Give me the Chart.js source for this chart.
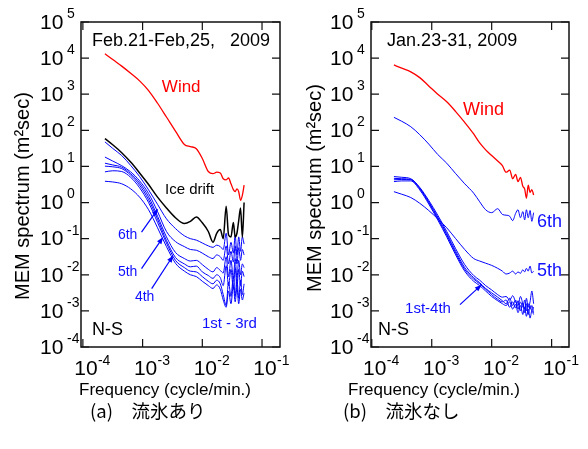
<!DOCTYPE html>
<html>
<head>
<meta charset="utf-8">
<script src="https://cdn.jsdelivr.net/npm/chart.js@4.4.0/dist/chart.umd.min.js"></script>
<style>
  body { margin: 0; background: #fff; width: 588px; height: 449px; overflow: hidden; position: relative; }
  canvas { position: absolute; top: 0; }
  #chartA { left: 0; }
  #chartB { left: 290px; }
</style>
</head>
<body>
<canvas id="chartA" width="290" height="449"></canvas>
<canvas id="chartB" width="298" height="449"></canvas>
<script>
// frequency grid (cycle/min.) shared by every spectrum
const freq = [2.34e-4, 3.16e-4, 4.47e-4, 6.31e-4, 8.91e-4, 1.26e-3, 1.78e-3, 2.51e-3, 3.55e-3, 5.01e-3,
  6.31e-3, 7.94e-3, 1.0e-2, 1.26e-2, 1.51e-2, 1.74e-2, 2.0e-2, 2.24e-2, 2.51e-2, 2.75e-2,
  3.02e-2, 3.31e-2, 3.55e-2, 3.80e-2, 4.07e-2, 4.37e-2, 4.68e-2, 5.01e-2];

// (a) with drift ice
const windA = [1.32e4, 9.1e3, 6.0e3, 3.8e3, 2.34e3, 1.26e3, 562, 234, 95.5, 40.7,
  35.5, 30.9, 16.6, 7.24, 6.31, 6.92, 6.61, 4.57, 4.27, 4.79,
  3.31, 2.29, 2.0, 2.4, 2.0, 1.15, 1.58, 3.02];
const iceA = [58.9, 39.8, 24.0, 13.2, 6.61, 3.16, 1.41, 0.708, 0.380, 0.263,
  0.302, 0.398, 0.275, 0.158, 0.0794, 0.141, 0.178, 0.100, 0.794, 0.126,
  0.112, 0.282, 0.112, 0.141, 0.316, 0.708, 0.110, 1.0];
const a6 = [47.9, 31.6, 20.0, 10.7, 5.25, 2.24, 0.891, 0.355, 0.191, 0.120,
  0.100, 0.0912, 0.0759, 0.0631, 0.0575, 0.0661, 0.0603, 0.0501, 0.141, 0.0355,
  0.0794, 0.0398, 0.126, 0.0355, 0.112, 0.0447, 0.112, 0.0708];
const a5 = [18.2, 14.1, 10.5, 7.08, 3.98, 1.78, 0.562, 0.158, 0.0832, 0.0603,
  0.0501, 0.0479, 0.0398, 0.0316, 0.0282, 0.0355, 0.0316, 0.0251, 0.0631, 0.0200,
  0.0447, 0.0224, 0.0631, 0.0200, 0.0562, 0.0251, 0.0501, 0.0355];
const a4 = [12.3, 11.0, 9.55, 6.31, 3.47, 1.45, 0.417, 0.112, 0.0417, 0.0282,
  0.0240, 0.0251, 0.0191, 0.0141, 0.0120, 0.0158, 0.0132, 0.0112, 0.0316, 0.00891,
  0.0251, 0.00794, 0.0282, 0.00794, 0.0251, 0.0100, 0.0200, 0.0158];
const a3 = [10.2, 9.77, 8.71, 5.75, 3.02, 1.20, 0.347, 0.0891, 0.0302, 0.0200,
  0.0166, 0.0174, 0.0120, 0.00955, 0.00794, 0.0100, 0.00832, 0.00501, 0.0178, 0.00501,
  0.0141, 0.00398, 0.0158, 0.00447, 0.0141, 0.00501, 0.0126, 0.00891];
const a2 = [7.08, 7.59, 7.24, 5.01, 2.57, 1.00, 0.282, 0.0759, 0.0251, 0.0158,
  0.0126, 0.0120, 0.00891, 0.00661, 0.00562, 0.00708, 0.00562, 0.00282, 0.00141, 0.00631,
  0.00251, 0.00891, 0.00251, 0.00794, 0.00224, 0.00708, 0.00282, 0.00562];
const a1 = [3.89, 3.72, 3.31, 2.40, 1.41, 0.631, 0.200, 0.0603, 0.0209, 0.0126,
  0.0100, 0.00891, 0.00661, 0.00501, 0.00417, 0.00525, 0.00398, 0.00200, 0.00126, 0.00355,
  0.00158, 0.00501, 0.00178, 0.00447, 0.00158, 0.00398, 0.00200, 0.00316];

// (b) without drift ice
const windB = [6.46e3, 5.25e3, 4.17e3, 2.88e3, 1.70e3, 1.0e3, 617, 331, 166, 79.4,
  44.7, 28.8, 20.0, 14.1, 10.5, 6.92, 7.94, 4.57, 6.03, 3.80,
  5.01, 2.82, 2.40, 1.32, 3.02, 1.91, 2.29, 1.62];
const b6 = [229, 178, 126, 75.9, 41.7, 21.4, 12.3, 6.31, 3.31, 1.82,
  1.05, 0.631, 0.525, 0.676, 0.468, 0.447, 0.417, 0.316, 0.501, 0.631,
  0.380, 0.562, 0.331, 0.631, 0.380, 0.603, 0.302, 0.525];
const b5 = [2.0, 1.70, 1.38, 0.955, 0.603, 0.355, 0.200, 0.100, 0.0501, 0.0282,
  0.0240, 0.0209, 0.0182, 0.0151, 0.0126, 0.0105, 0.0112, 0.0126, 0.0105, 0.0120,
  0.0110, 0.0138, 0.0120, 0.0151, 0.0126, 0.0174, 0.0112, 0.0126];
const b4 = [5.25, 5.01, 4.57, 2.63, 1.15, 0.447, 0.158, 0.0525, 0.0191, 0.00955,
  0.00708, 0.00501, 0.00380, 0.00282, 0.00240, 0.00251, 0.00200, 0.00263, 0.00178, 0.00141,
  0.00251, 0.00158, 0.00112, 0.00224, 0.00126, 0.00178, 0.00355, 0.00158];
const b3 = [4.68, 4.57, 4.37, 2.51, 1.05, 0.398, 0.138, 0.0447, 0.0158, 0.00832,
  0.00603, 0.00417, 0.00316, 0.00240, 0.00191, 0.00158, 0.00224, 0.00141, 0.00200, 0.00112,
  0.00178, 0.00126, 0.00200, 0.00100, 0.00158, 0.00112, 0.00141, 0.000891];
const b2 = [4.27, 4.37, 4.27, 2.40, 1.00, 0.363, 0.126, 0.0398, 0.0141, 0.00759,
  0.00562, 0.00398, 0.00282, 0.00209, 0.00178, 0.00200, 0.00126, 0.00178, 0.00120, 0.00191,
  0.00100, 0.00166, 0.000891, 0.00158, 0.000794, 0.00141, 0.00100, 0.00126];
const b1 = [3.80, 3.98, 3.98, 2.24, 0.912, 0.331, 0.112, 0.0355, 0.0126, 0.00661,
  0.00501, 0.00355, 0.00251, 0.00191, 0.00158, 0.00141, 0.00178, 0.00112, 0.00151, 0.000891,
  0.00141, 0.000794, 0.00126, 0.000708, 0.00112, 0.000631, 0.00100, 0.000794];

// decade ticks
const decadesX = [1e-4, 1e-3, 1e-2, 1e-1];
const expX = ['-4', '-3', '-2', '-1'];
const decadesY = [1e-4, 1e-3, 1e-2, 1e-1, 1e0, 1e1, 1e2, 1e3, 1e4, 1e5];
const expY = ['-4', '-3', '-2', '-1', '0', '1', '2', '3', '4', '5'];

const RED = '#ff0000';
const BLUE = '#0000ff';
const BLUE_TXT = '#1010ff';
const FONT = '"Liberation Sans", Arial, sans-serif';
const CJK = '"Noto Sans CJK JP", sans-serif';

function series(vals, color, width) {
  return {
    data: freq.map((f, i) => ({ x: f, y: vals[i] })),
    borderColor: color,
    borderWidth: width,
    pointRadius: 0,
    fill: false,
    cubicInterpolationMode: 'monotone'
  };
}

function text(ctx, str, x, y, size, color, align, font) {
  ctx.font = size + 'px ' + (font || FONT);
  ctx.fillStyle = color;
  ctx.textAlign = align || 'left';
  ctx.textBaseline = 'middle';
  ctx.fillText(str, x, y);
}

function arrow(ctx, x0, y0, x1, y1) {
  const ang = Math.atan2(y1 - y0, x1 - x0);
  const c = Math.cos(ang), s = Math.sin(ang);
  ctx.beginPath();
  ctx.moveTo(x0, y0);
  ctx.lineTo(x1 - 4 * c, y1 - 4 * s);
  ctx.stroke();
  ctx.beginPath();
  ctx.moveTo(x1, y1);
  ctx.lineTo(x1 - 7 * c + 2.6 * s, y1 - 7 * s - 2.6 * c);
  ctx.lineTo(x1 - 7 * c - 2.6 * s, y1 - 7 * s + 2.6 * c);
  ctx.closePath();
  ctx.fill();
}

function panelPlugin(p) {
  return {
    id: 'panel',
    afterDatasetsDraw(chart) {
      const ctx = chart.ctx, a = chart.chartArea;
      const sx = chart.scales.x, sy = chart.scales.y;
      ctx.save();

      // frame with inward decade ticks
      ctx.strokeStyle = '#111';
      ctx.lineWidth = 1.5;
      ctx.strokeRect(a.left, a.top, a.right - a.left, a.bottom - a.top);
      ctx.lineWidth = 1.2;
      ctx.beginPath();
      decadesX.forEach(v => {
        const px = sx.getPixelForValue(v);
        ctx.moveTo(px, a.bottom); ctx.lineTo(px, a.bottom - 8);
        ctx.moveTo(px, a.top); ctx.lineTo(px, a.top + 8);
      });
      decadesY.forEach(v => {
        const py = sy.getPixelForValue(v);
        ctx.moveTo(a.left, py); ctx.lineTo(a.left + 8, py);
        ctx.moveTo(a.right, py); ctx.lineTo(a.right - 8, py);
      });
      ctx.stroke();

      // tick labels 10^n
      decadesY.forEach((v, i) => {
        const py = sy.getPixelForValue(v);
        text(ctx, '10', a.left - 41, py + 1, 21, '#000');
        text(ctx, expY[i], a.left - 14, py - 8, 14, '#000');
      });
      decadesX.forEach((v, i) => {
        const px = sx.getPixelForValue(v);
        text(ctx, '10', px + 3, a.bottom + 22, 21, '#000', 'center');
        text(ctx, expX[i], px + 15, a.bottom + 14, 14, '#000');
      });

      // axis titles and caption
      text(ctx, 'Frequency (cycle/min.)', p.xTitle[0], p.xTitle[1], 17, '#000', 'center');
      ctx.save();
      ctx.translate(p.yTitle[0], p.yTitle[1]);
      ctx.rotate(-Math.PI / 2);
      text(ctx, 'MEM spectrum (m\u00B2sec)', 0, 0, 20, '#000', 'center');
      ctx.restore();
      text(ctx, p.caption, p.captionPos[0], p.captionPos[1], 18.5, '#000', 'left', CJK);

      // annotations
      p.labels.forEach(l => {
        text(ctx, l.text, sx.getPixelForValue(l.x), sy.getPixelForValue(l.y), l.size, l.color);
      });
      ctx.strokeStyle = BLUE;
      ctx.fillStyle = BLUE;
      ctx.lineWidth = 1.2;
      p.arrows.forEach(ar => {
        arrow(ctx, sx.getPixelForValue(ar[0]), sy.getPixelForValue(ar[1]),
          sx.getPixelForValue(ar[2]), sy.getPixelForValue(ar[3]));
      });
      ctx.restore();
    }
  };
}

function makePanel(p) {
  return new Chart(document.getElementById(p.canvas), {
    type: 'line',
    data: { datasets: p.datasets },
    options: {
      responsive: false,
      animation: false,
      layout: { padding: p.padding },
      plugins: { legend: { display: false }, tooltip: { enabled: false } },
      scales: {
        x: { type: 'logarithmic', min: p.xMin, max: p.xMax, display: false },
        y: { type: 'logarithmic', min: 1e-4, max: 1e5, display: false }
      }
    },
    plugins: [panelPlugin(p)]
  });
}

makePanel({
  canvas: 'chartA',
  xMin: 9.3e-5, xMax: 0.2,
  padding: { left: 81, top: 22, right: 10, bottom: 102 },
  datasets: [
    series(windA, RED, 1.3),
    series(iceA, '#000', 1.5),
    series(a6, BLUE, 1), series(a5, BLUE, 1), series(a4, BLUE, 1),
    series(a3, BLUE, 1), series(a2, BLUE, 1), series(a1, BLUE, 1)
  ],
  xTitle: [165, 390],
  yTitle: [23, 196],
  caption: '(a)\u3000流氷あり',
  captionPos: [90, 411],
  labels: [
    { text: 'Feb.21-Feb,25,   2009', x: 1.42e-4, y: 2.92e4, size: 18, color: '#000' },
    { text: 'Wind', x: 2.1e-3, y: 1550, size: 17, color: RED },
    { text: 'Ice drift', x: 2.37e-3, y: 2.3, size: 15, color: '#000' },
    { text: '6th', x: 3.86e-4, y: 0.123, size: 14, color: BLUE_TXT },
    { text: '5th', x: 3.86e-4, y: 0.0116, size: 14, color: BLUE_TXT },
    { text: '4th', x: 7.43e-4, y: 2.37e-3, size: 14, color: BLUE_TXT },
    { text: '1st - 3rd', x: 9.84e-3, y: 4.5e-4, size: 15, color: BLUE_TXT },
    { text: 'N-S', x: 1.42e-4, y: 2.9e-4, size: 18, color: '#000' }
  ],
  arrows: [
    [9.6e-4, 0.152, 1.82e-3, 0.678],
    [9.6e-4, 0.0148, 2.21e-3, 0.111],
    [1.42e-3, 4.12e-3, 3.26e-3, 0.0344]
  ]
});

makePanel({
  canvas: 'chartB',
  xMin: 9.7e-5, xMax: 0.195,
  padding: { left: 81, top: 22, right: 19, bottom: 102 },
  datasets: [
    series(windB, RED, 1.3),
    series(b6, BLUE, 1), series(b5, BLUE, 1), series(b4, BLUE, 1),
    series(b3, BLUE, 1), series(b2, BLUE, 1), series(b1, BLUE, 1)
  ],
  xTitle: [144, 390],
  yTitle: [25, 188],
  caption: '(b)\u3000流氷なし',
  captionPos: [53, 411],
  labels: [
    { text: 'Jan.23-31, 2009', x: 1.8e-4, y: 2.93e4, size: 18, color: '#000' },
    { text: 'Wind', x: 3.32e-3, y: 364, size: 18, color: RED },
    { text: '6th', x: 0.0569, y: 0.293, size: 18, color: BLUE_TXT },
    { text: '5th', x: 0.0569, y: 0.013, size: 18, color: BLUE_TXT },
    { text: '1st-4th', x: 3.59e-4, y: 1.16e-3, size: 15, color: BLUE_TXT },
    { text: 'N-S', x: 1.27e-4, y: 3.04e-4, size: 18, color: '#000' }
  ],
  arrows: [
    [2.96e-3, 1.49e-3, 6.81e-3, 5.32e-3]
  ]
});
</script>
</body>
</html>
